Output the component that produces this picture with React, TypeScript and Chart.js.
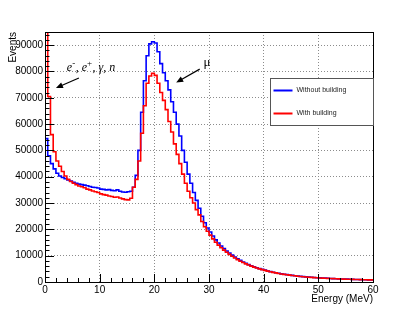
import React, { useEffect, useRef } from 'react';
import { Chart, registerables } from 'chart.js';

Chart.register(...registerables);

// ---------------- data ----------------
const BIN_WIDTH = 0.5; // MeV
const X_MIN = 0;
const X_MAX = 60;
const Y_MIN = 0;
const Y_MAX = 95000;
const X_MAJOR = 10;
const X_MINOR = 2;
const Y_MAJOR = 10000;
const Y_MINOR = 2000;

const xTitle = 'Energy (MeV)';
const yTitle = 'Events';
const seriesLabels = ['Without building', 'With building'];
const seriesColors = ['#0000ff', '#ff0000'];

// counts per 0.5 MeV bin, bins starting at 0, 0.5, 1.0, ... 59.5
const withoutBuilding = [
  54500, 48000, 45000, 43000, 41300, 40300, 39700, 39300, 38800, 38400,
  37900, 37500, 37200, 37000, 36800, 36600, 36300, 36000, 35900, 35700,
  35300, 35200, 35000, 35100, 34800, 34700, 35000, 34500, 34200, 34100,
  34300, 34500, 36000, 40500, 50000, 64500, 76500, 86000, 90500, 91300,
  90800, 87500, 83000, 79500, 76500, 73000, 68500, 64500, 60000, 55500,
  50000, 45500, 41000, 37500, 34000, 31000, 28000, 25000, 22500, 20500,
  19000, 17500, 16000, 14800, 13700, 12700, 11800, 11000, 10200, 9500,
  8800, 8200, 7600, 7100, 6600, 6200, 5800, 5400, 5100, 4800,
  4500, 4200, 3950, 3700, 3500, 3300, 3100, 2950, 2800, 2650,
  2500, 2400, 2250, 2150, 2050, 1950, 1850, 1780, 1700, 1640,
  1580, 1520, 1460, 1400, 1350, 1300, 1250, 1200, 1160, 1120,
  1080, 1040, 1000, 970, 940, 910, 880, 850, 820, 800,
];

const withBuilding = [
  120000, 70500, 56000, 49500, 46000, 44000, 42000, 40300, 39000, 38200,
  37500, 37000, 36500, 36200, 35800, 35300, 35000, 34600, 34300, 34000,
  33500, 33200, 33000, 32700, 32500, 32200, 32300, 31900, 31600, 31300,
  31200, 31800, 36000, 39000, 46000, 56500, 67000, 75500, 78300, 79300,
  78500, 75500, 72000, 69000, 65500, 61000, 57000, 52500, 48500, 45000,
  41000, 37500, 34500, 32000, 30000, 27500, 25500, 23000, 21000, 19300,
  17800, 16400, 15100, 14000, 13000, 12100, 11300, 10500, 9800, 9100,
  8500, 7900, 7400, 6900, 6450, 6050, 5650, 5300, 5000, 4700,
  4400, 4150, 3900, 3650, 3450, 3250, 3050, 2900, 2750, 2600,
  2450, 2350, 2200, 2100, 2000, 1900, 1820, 1740, 1670, 1600,
  1540, 1480, 1420, 1370, 1320, 1270, 1220, 1180, 1140, 1100,
  1060, 1020, 990, 960, 930, 900, 870, 840, 810, 790,
];

// annotations (data coordinates)
const leptonLabel = { x: 4.0, y: 80000 };
const leptonArrow = { x1: 6.2, y1: 77500, x2: 2.0, y2: 73700 };
const muonLabel = { x: 29.0, y: 82000 };
const muonArrow = { x1: 28.3, y1: 80900, x2: 24.0, y2: 75800 };

const SANS = '"Liberation Sans", Arial, Helvetica, sans-serif';
const SERIF = '"Liberation Serif", "Times New Roman", serif';

function toSteps(values: number[]) {
  const pts = values.map((v, i) => ({ x: X_MIN + i * BIN_WIDTH, y: v }));
  pts.push({ x: X_MIN + values.length * BIN_WIDTH, y: values[values.length - 1] });
  return pts;
}

function drawArrow(ctx: CanvasRenderingContext2D, x1: number, y1: number, x2: number, y2: number) {
  const ang = Math.atan2(y2 - y1, x2 - x1);
  const hl = 7;
  const hw = 3;
  ctx.beginPath();
  ctx.moveTo(x1, y1);
  ctx.lineTo(x2 - Math.cos(ang) * hl * 0.8, y2 - Math.sin(ang) * hl * 0.8);
  ctx.lineWidth = 1.2;
  ctx.strokeStyle = '#000';
  ctx.stroke();
  ctx.beginPath();
  ctx.moveTo(x2, y2);
  ctx.lineTo(x2 - Math.cos(ang) * hl - Math.sin(ang) * hw, y2 - Math.sin(ang) * hl + Math.cos(ang) * hw);
  ctx.lineTo(x2 - Math.cos(ang) * hl + Math.sin(ang) * hw, y2 - Math.sin(ang) * hl - Math.cos(ang) * hw);
  ctx.closePath();
  ctx.fillStyle = '#000';
  ctx.fill();
}

const rootPlugin = {
  id: 'rootDecor',
  afterDraw(chart: any) {
    const { ctx, chartArea: ca, scales } = chart;
    const xs = scales.x;
    const ys = scales.y;
    ctx.save();

    // tick marks inside frame
    ctx.strokeStyle = '#000';
    ctx.lineWidth = 1;
    ctx.beginPath();
    for (let v = X_MIN; v <= X_MAX + 1e-9; v += X_MINOR) {
      const px = Math.round(xs.getPixelForValue(v)) + 0.5;
      const major = Math.abs(v / X_MAJOR - Math.round(v / X_MAJOR)) < 1e-6;
      const len = major ? 8 : 4;
      ctx.moveTo(px, ca.bottom);
      ctx.lineTo(px, ca.bottom - len);
    }
    for (let v = Y_MIN; v <= Y_MAX + 1e-9; v += Y_MINOR) {
      const py = Math.round(ys.getPixelForValue(v)) + 0.5;
      const major = Math.abs(v / Y_MAJOR - Math.round(v / Y_MAJOR)) < 1e-6;
      const len = major ? 9 : 4.5;
      ctx.moveTo(ca.left, py);
      ctx.lineTo(ca.left + len, py);
    }
    ctx.stroke();

    // frame
    ctx.strokeStyle = '#000';
    ctx.lineWidth = 1;
    ctx.strokeRect(ca.left + 0.5, ca.top + 0.5, ca.right - ca.left, ca.bottom - ca.top);

    // axis titles
    ctx.fillStyle = '#000';
    ctx.font = `10px ${SANS}`;
    ctx.textAlign = 'right';
    ctx.textBaseline = 'alphabetic';
    ctx.fillText(xTitle, ca.right, ca.bottom + 20);
    ctx.save();
    ctx.translate(15.5, ca.top);
    ctx.rotate(-Math.PI / 2);
    ctx.textAlign = 'right';
    ctx.fillText(yTitle, 0, 0);
    ctx.restore();

    // lepton annotation text: e^-, e^+, gamma, n
    {
      let x = xs.getPixelForValue(leptonLabel.x);
      const y = ys.getPixelForValue(leptonLabel.y);
      const big = `italic 12px ${SERIF}`;
      const small = `9px ${SERIF}`;
      ctx.textAlign = 'left';
      const parts: [string, boolean][] = [
        ['e', false], ['-', true], [', e', false], ['+', true], [', \u03B3, n', false],
      ];
      for (const [t, sup] of parts) {
        ctx.font = sup ? small : big;
        ctx.fillText(t, x, sup ? y - 5 : y);
        x += ctx.measureText(t).width + (sup ? 0.5 : 0);
      }
    }
    drawArrow(
      ctx,
      xs.getPixelForValue(leptonArrow.x1), ys.getPixelForValue(leptonArrow.y1),
      xs.getPixelForValue(leptonArrow.x2), ys.getPixelForValue(leptonArrow.y2),
    );

    // muon annotation
    ctx.font = `13px ${SERIF}`;
    ctx.textAlign = 'left';
    ctx.fillText('\u03BC', xs.getPixelForValue(muonLabel.x), ys.getPixelForValue(muonLabel.y));
    drawArrow(
      ctx,
      xs.getPixelForValue(muonArrow.x1), ys.getPixelForValue(muonArrow.y1),
      xs.getPixelForValue(muonArrow.x2), ys.getPixelForValue(muonArrow.y2),
    );

    // legend box
    const lw = 103;
    const lh = 47;
    const lx = Math.round(ca.right - lw) + 0.5;
    const ly = Math.round(ca.top + 46) + 0.5;
    ctx.fillStyle = '#fff';
    ctx.fillRect(lx, ly, lw, lh);
    ctx.strokeStyle = '#555';
    ctx.lineWidth = 1;
    ctx.strokeRect(lx, ly, lw, lh);
    ctx.font = `7px ${SANS}`;
    ctx.textAlign = 'left';
    ctx.textBaseline = 'middle';
    seriesLabels.forEach((lab, i) => {
      const cy = ly + 12 + i * 23;
      ctx.strokeStyle = seriesColors[i];
      ctx.lineWidth = 2;
      ctx.beginPath();
      ctx.moveTo(lx + 3, cy);
      ctx.lineTo(lx + 22, cy);
      ctx.stroke();
      ctx.fillStyle = '#222';
      ctx.fillText(lab, lx + 26, cy);
    });

    ctx.restore();
  },
};

export default function App() {
  const ref = useRef<HTMLCanvasElement | null>(null);

  useEffect(() => {
    if (!ref.current) return;
    const chart = new Chart(ref.current, {
      type: 'line',
      data: {
        datasets: [
          {
            label: seriesLabels[0],
            data: toSteps(withoutBuilding),
            borderColor: seriesColors[0],
            borderWidth: 1.6,
            pointRadius: 0,
            stepped: 'before',
            fill: false,
            order: 1,
          },
          {
            label: seriesLabels[1],
            data: toSteps(withBuilding),
            borderColor: seriesColors[1],
            borderWidth: 1.6,
            pointRadius: 0,
            stepped: 'before',
            fill: false,
            order: 0,
          },
        ],
      },
      options: {
        animation: false,
        responsive: false,
        maintainAspectRatio: false,
        parsing: false as any,
        normalized: true,
        layout: { padding: { top: 32, right: 42, left: 0, bottom: 0 } },
        plugins: {
          legend: { display: false },
          tooltip: { enabled: false },
          title: { display: false },
        },
        scales: {
          x: {
            type: 'linear',
            min: X_MIN,
            max: X_MAX,
            afterFit: (s: any) => { s.height = 31; },
            afterBuildTicks: (s: any) => {
              const t = [];
              for (let v = X_MIN; v <= X_MAX; v += X_MAJOR) t.push({ value: v });
              s.ticks = t;
            },
            ticks: {
              stepSize: X_MAJOR,
              autoSkip: false,
              maxRotation: 0,
              padding: 2,
              color: '#000',
              font: { family: SANS, size: 10 },
              callback: (v: any) => String(v),
            },
            grid: { color: '#8c8c8c', lineWidth: 1, drawTicks: false },
            border: { display: false, dash: [1, 2] },
          },
          y: {
            type: 'linear',
            min: Y_MIN,
            max: Y_MAX,
            afterFit: (s: any) => { s.width = 45; },
            afterBuildTicks: (s: any) => {
              const t = [];
              for (let v = Y_MIN; v <= Y_MAX; v += Y_MAJOR) t.push({ value: v });
              s.ticks = t;
            },
            ticks: {
              stepSize: Y_MAJOR,
              autoSkip: false,
              padding: 2,
              color: '#000',
              font: { family: SANS, size: 10 },
              callback: (v: any) => String(v),
            },
            grid: { color: '#8c8c8c', lineWidth: 1, drawTicks: false },
            border: { display: false, dash: [1, 2] },
          },
        },
      },
      plugins: [rootPlugin],
    });
    return () => chart.destroy();
  }, []);

  return (
    <div style={{ position: 'fixed', left: 0, top: 0, width: 415, height: 313, background: '#fff' }}>
      <canvas ref={ref} width={415} height={313} style={{ width: 415, height: 313, display: 'block' }} />
    </div>
  );
}
